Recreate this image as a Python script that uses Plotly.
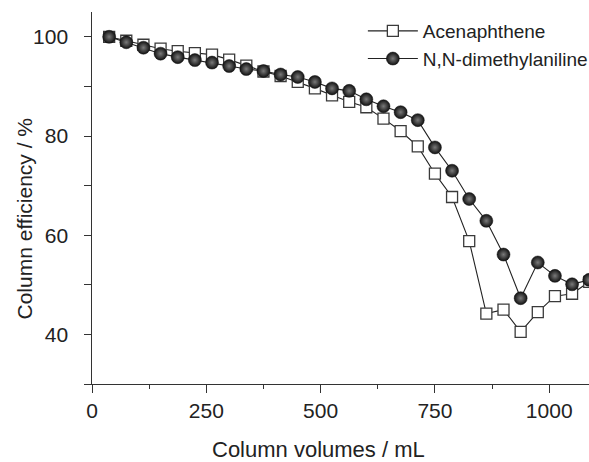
import plotly.graph_objects as go

# Column volumes (mL)
volumes = [37.5, 75, 112.5, 150, 187.5, 225, 262.5, 300, 337.5, 375,
           412.5, 450, 487.5, 525, 562.5, 600, 637.5, 675, 712.5, 750,
           787.5, 825, 862.5, 900, 937.5, 975, 1012.5, 1050, 1087.5]

acenaphthene = [100, 99.2, 98.4, 97.6, 97.1, 96.7, 96.4, 95.4, 94.2, 93.0,
                92.1, 90.9, 89.6, 88.2, 86.9, 85.8, 83.5, 81.0, 77.9, 72.4,
                67.7, 58.8, 44.2, 45.0, 40.5, 44.5, 47.7, 48.2, 50.6]

dimethylaniline = [100, 98.9, 97.8, 96.6, 95.9, 95.3, 94.8, 94.1, 93.5, 93.1,
                   92.4, 91.9, 90.9, 89.6, 89.1, 87.4, 86.0, 84.8, 83.2, 77.7,
                   73.0, 67.3, 62.9, 56.1, 47.3, 54.5, 51.8, 50.1, 51.0]

x_ticks = [0, 250, 500, 750, 1000]
y_ticks = [40, 60, 80, 100]
y_ticktext = [f"{v}\u2007" for v in y_ticks]

font_family = "Liberation Sans, Arial, sans-serif"
txt = "#222222"

fig = go.Figure()
fig.add_trace(go.Scatter(
    x=volumes, y=acenaphthene, name="Acenaphthene", mode="lines+markers",
    legendgroup="a",
    line=dict(color="#222222", width=1.1),
    marker=dict(symbol="square", size=11, color="white",
                line=dict(color="#3a3a3a", width=1.3)),
))
fig.add_trace(go.Scatter(
    x=volumes, y=dimethylaniline, name="N,N-dimethylaniline", mode="lines+markers",
    legendgroup="b",
    line=dict(color="#222222", width=1.1),
    marker=dict(symbol="circle", size=13, color="#111111",
                gradient=dict(type="radial", color="#7a7a7a"),
                line=dict(color="#111111", width=0.5)),
))

fig.update_layout(
    width=589, height=462,
    margin=dict(l=92, r=0, t=12, b=78, autoexpand=False),
    paper_bgcolor="white", plot_bgcolor="white",
    font=dict(family=font_family, size=21, color=txt),
    showlegend=True,
    legend=dict(x=0.545, xanchor="left", y=1.0, yanchor="top",
                bgcolor="rgba(0,0,0,0)", font=dict(size=19, color=txt),
                itemwidth=50, tracegroupgap=0),
    xaxis=dict(
        range=[0, 1087], tickvals=x_ticks,
        showgrid=False, zeroline=False, showline=True,
        linecolor="#333333", linewidth=1,
        ticks="outside", ticklen=8, tickcolor="#333333",
        minor=dict(dtick=125, tick0=0, ticks="outside", ticklen=4, tickcolor="#333333"),
        tickfont=dict(size=21), automargin=False,
    ),
    yaxis=dict(
        range=[30, 105], tickvals=y_ticks, ticktext=y_ticktext,
        showgrid=False, zeroline=False, showline=True,
        linecolor="#333333", linewidth=1,
        ticks="outside", ticklen=7, tickcolor="#333333",
        minor=dict(dtick=10, tick0=30, ticks="outside", ticklen=7, tickcolor="#333333"),
        tickfont=dict(size=21), automargin=False,
    ),
    annotations=[
        dict(text="Column volumes / mL", xref="paper", yref="paper",
             x=0.4548, y=-0.1774, xanchor="center", yanchor="middle",
             showarrow=False, font=dict(size=22, color=txt)),
        dict(text="Column efficiency / %", xref="paper", yref="paper",
             x=-0.136, y=0.446, xanchor="center", yanchor="middle",
             textangle=-90, showarrow=False, font=dict(size=21, color=txt)),
    ],
)

fig.write_html("out.html", post_script="document.body.style.margin='0';",
               config={"displayModeBar": False})
